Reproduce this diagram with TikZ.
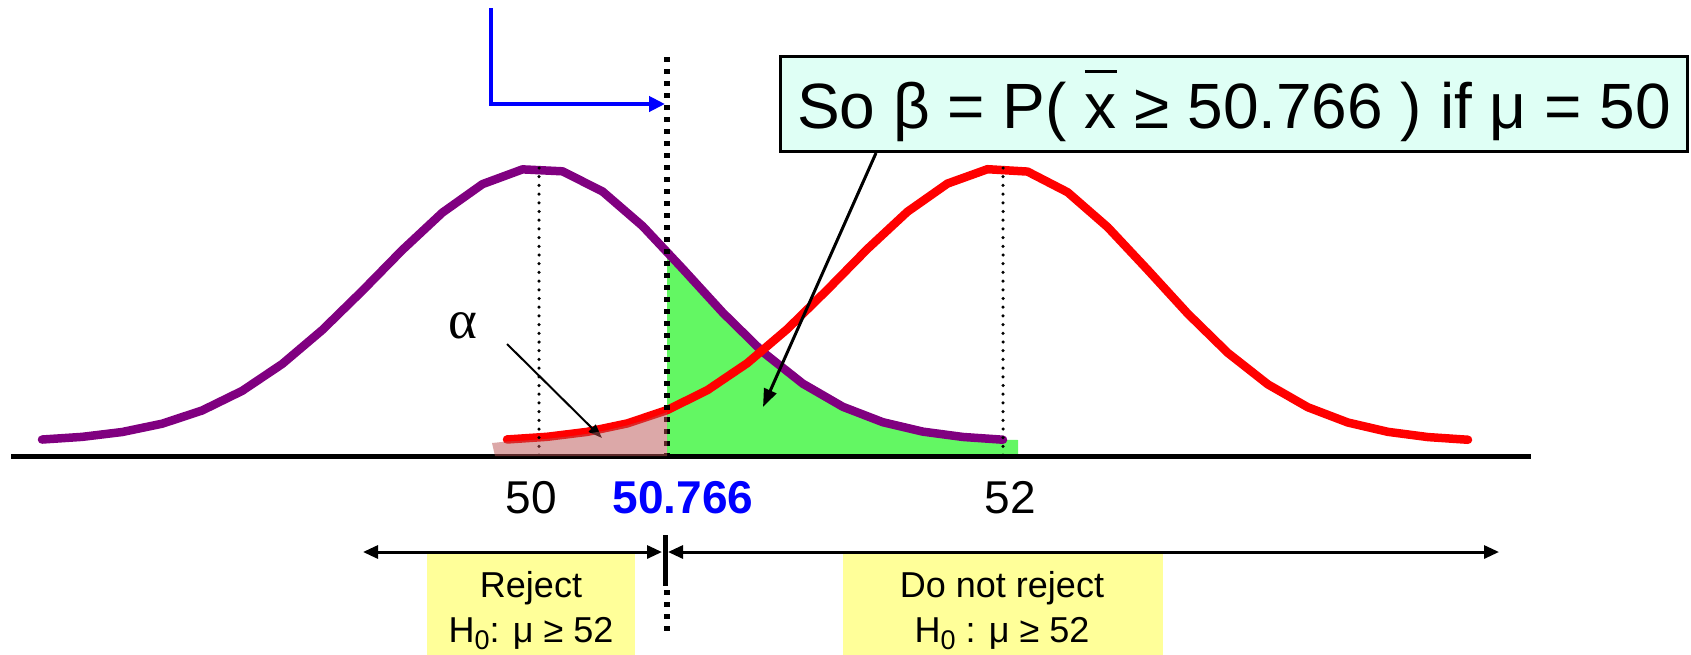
\documentclass[tikz,border=0pt]{standalone}
\usepackage{fontspec}
\setmainfont{Liberation Sans}
\newfontfamily\serifgr{Liberation Serif}
\usetikzlibrary{arrows.meta}
\definecolor{purp}{RGB}{128,0,128}
\definecolor{gfill}{RGB}{99,247,99}
\definecolor{pinkf}{RGB}{185,81,81}
\definecolor{boxc}{RGB}{223,255,245}
\definecolor{yel}{RGB}{255,255,153}
\newcommand\xbarsym{\rlap{\raisebox{0.86em}{\rule{0.5em}{0.045em}}}x}
\newcommand\subz{\raisebox{-7pt}{\fontsize{27}{27}\selectfont 0}}
\tikzset{
 bell/.style={line width=8.5pt, line join=round, line cap=round},
 thindot/.style={line width=3.5pt, line cap=round, dash pattern=on 0pt off 8.7pt},
 critdot/.style={line width=5.5pt, dash pattern=on 5pt off 7pt},
 dbl/.style={line width=3pt, {Triangle[length=15pt,width=13pt]}-{Triangle[length=15pt,width=13pt]}},
 ybox/.style={fill=yel, minimum width=#1, minimum height=103pt, anchor=north, inner sep=0pt},
 ylab/.style={font=\fontsize{36}{45}\selectfont, align=center, anchor=north, inner sep=0pt},
 ticklab/.style={font=\fontsize{46}{50}\selectfont, anchor=base, inner sep=0pt},
}
\begin{document}
\begin{tikzpicture}[x=1pt,y=-1pt,
  declare function={gy(\d)=442-274*exp(-((\d)/100)*((\d)/100)/((\d)<0 ? 5.2488 : 4.5));}]
\useasboundingbox (0,0) rectangle (1691,654);

% green area (beta)
\fill[gfill] (667,456) -- plot[domain=667:1003,samples=15] (\x,{gy(\x-539)}) -- (1018,440) -- (1018,456) -- cycle;

% curves
\draw[bell, purp] plot[domain=42:1003, samples=25] (\x,{gy(\x-539)});
\draw[bell, red] plot[domain=507:1468, samples=25] (\x,{gy(\x-1003)});

% axis
\draw[line width=5pt] (11,456) -- (1531,456);

% dotted lines
\draw[thindot] (539,168) -- (539,456);
\draw[thindot] (1003,168) -- (1003,456);
\draw[critdot] (667,57) -- (667,456);
\draw[critdot] (667,590) -- (667,631);

% alpha
\node[font=\fontsize{55}{60}\selectfont\serifgr, inner sep=0pt] (alpha) at (463,326) {α};
\coordinate (as) at (507,344);
\coordinate (ae) at (602,438);
\draw[line width=2pt, -{Triangle[length=14pt,width=10pt]}] (as) -- (ae);

% pink area (alpha)
\fill[pinkf, opacity=0.5] (495,456) -- (492,443) -- plot[domain=507:667,samples=9] (\x,{gy(\x-1003)+2}) -- (667,456) -- cycle;

% blue arrow
\coordinate (b1) at (491,8);
\coordinate (b2) at (491,104);
\coordinate (b3) at (665,104);
\draw[blue, line width=4pt, -{Triangle[length=16pt,width=15pt]}] (b1) -- (b2) -- (b3);

% callout box
\node[draw, line width=3pt, fill=boxc, minimum width=907pt, minimum height=95pt, inner sep=0pt] (box) at (1234,104) {};
\node[anchor=base, inner sep=0pt, font=\fontsize{64}{70}\selectfont] (boxtext) at (1234,128) {So β = P( \xbarsym{} ≥ 50.766 ) if μ = 50};
\coordinate (ct) at (763,407);
\draw[line width=3pt, -{Triangle[length=18pt,width=13pt]}] ([xshift=97pt]box.south west) -- (ct);

% tick labels
\node[ticklab] (l50) at (531,513) {50};
\node[ticklab, text=blue, font=\fontsize{46}{50}\selectfont\bfseries] (lcrit) at (683,513) {50.766};
\node[ticklab] (l52) at (1010,513) {52};

% decision regions
\node[ybox=208pt] (yrej) at (531,553) {};
\node[ybox=320pt] (ynot) at (1003,553) {};
\node[ylab] (trej) at (531,571) {Reject\\H\subz: μ ≥ 52};
\node[ylab] (tnot) at (1002,571) {Do not reject\\H\subz{} : μ ≥ 52};
\coordinate (r1) at (363,552);
\coordinate (r2) at (662,552);
\coordinate (n1) at (668,552);
\coordinate (n2) at (1499,552);
\draw[dbl] (r1) -- (r2);
\draw[dbl] (n1) -- (n2);
\draw[line width=5pt] (665,535) -- (665,586);
\end{tikzpicture}
\end{document}
